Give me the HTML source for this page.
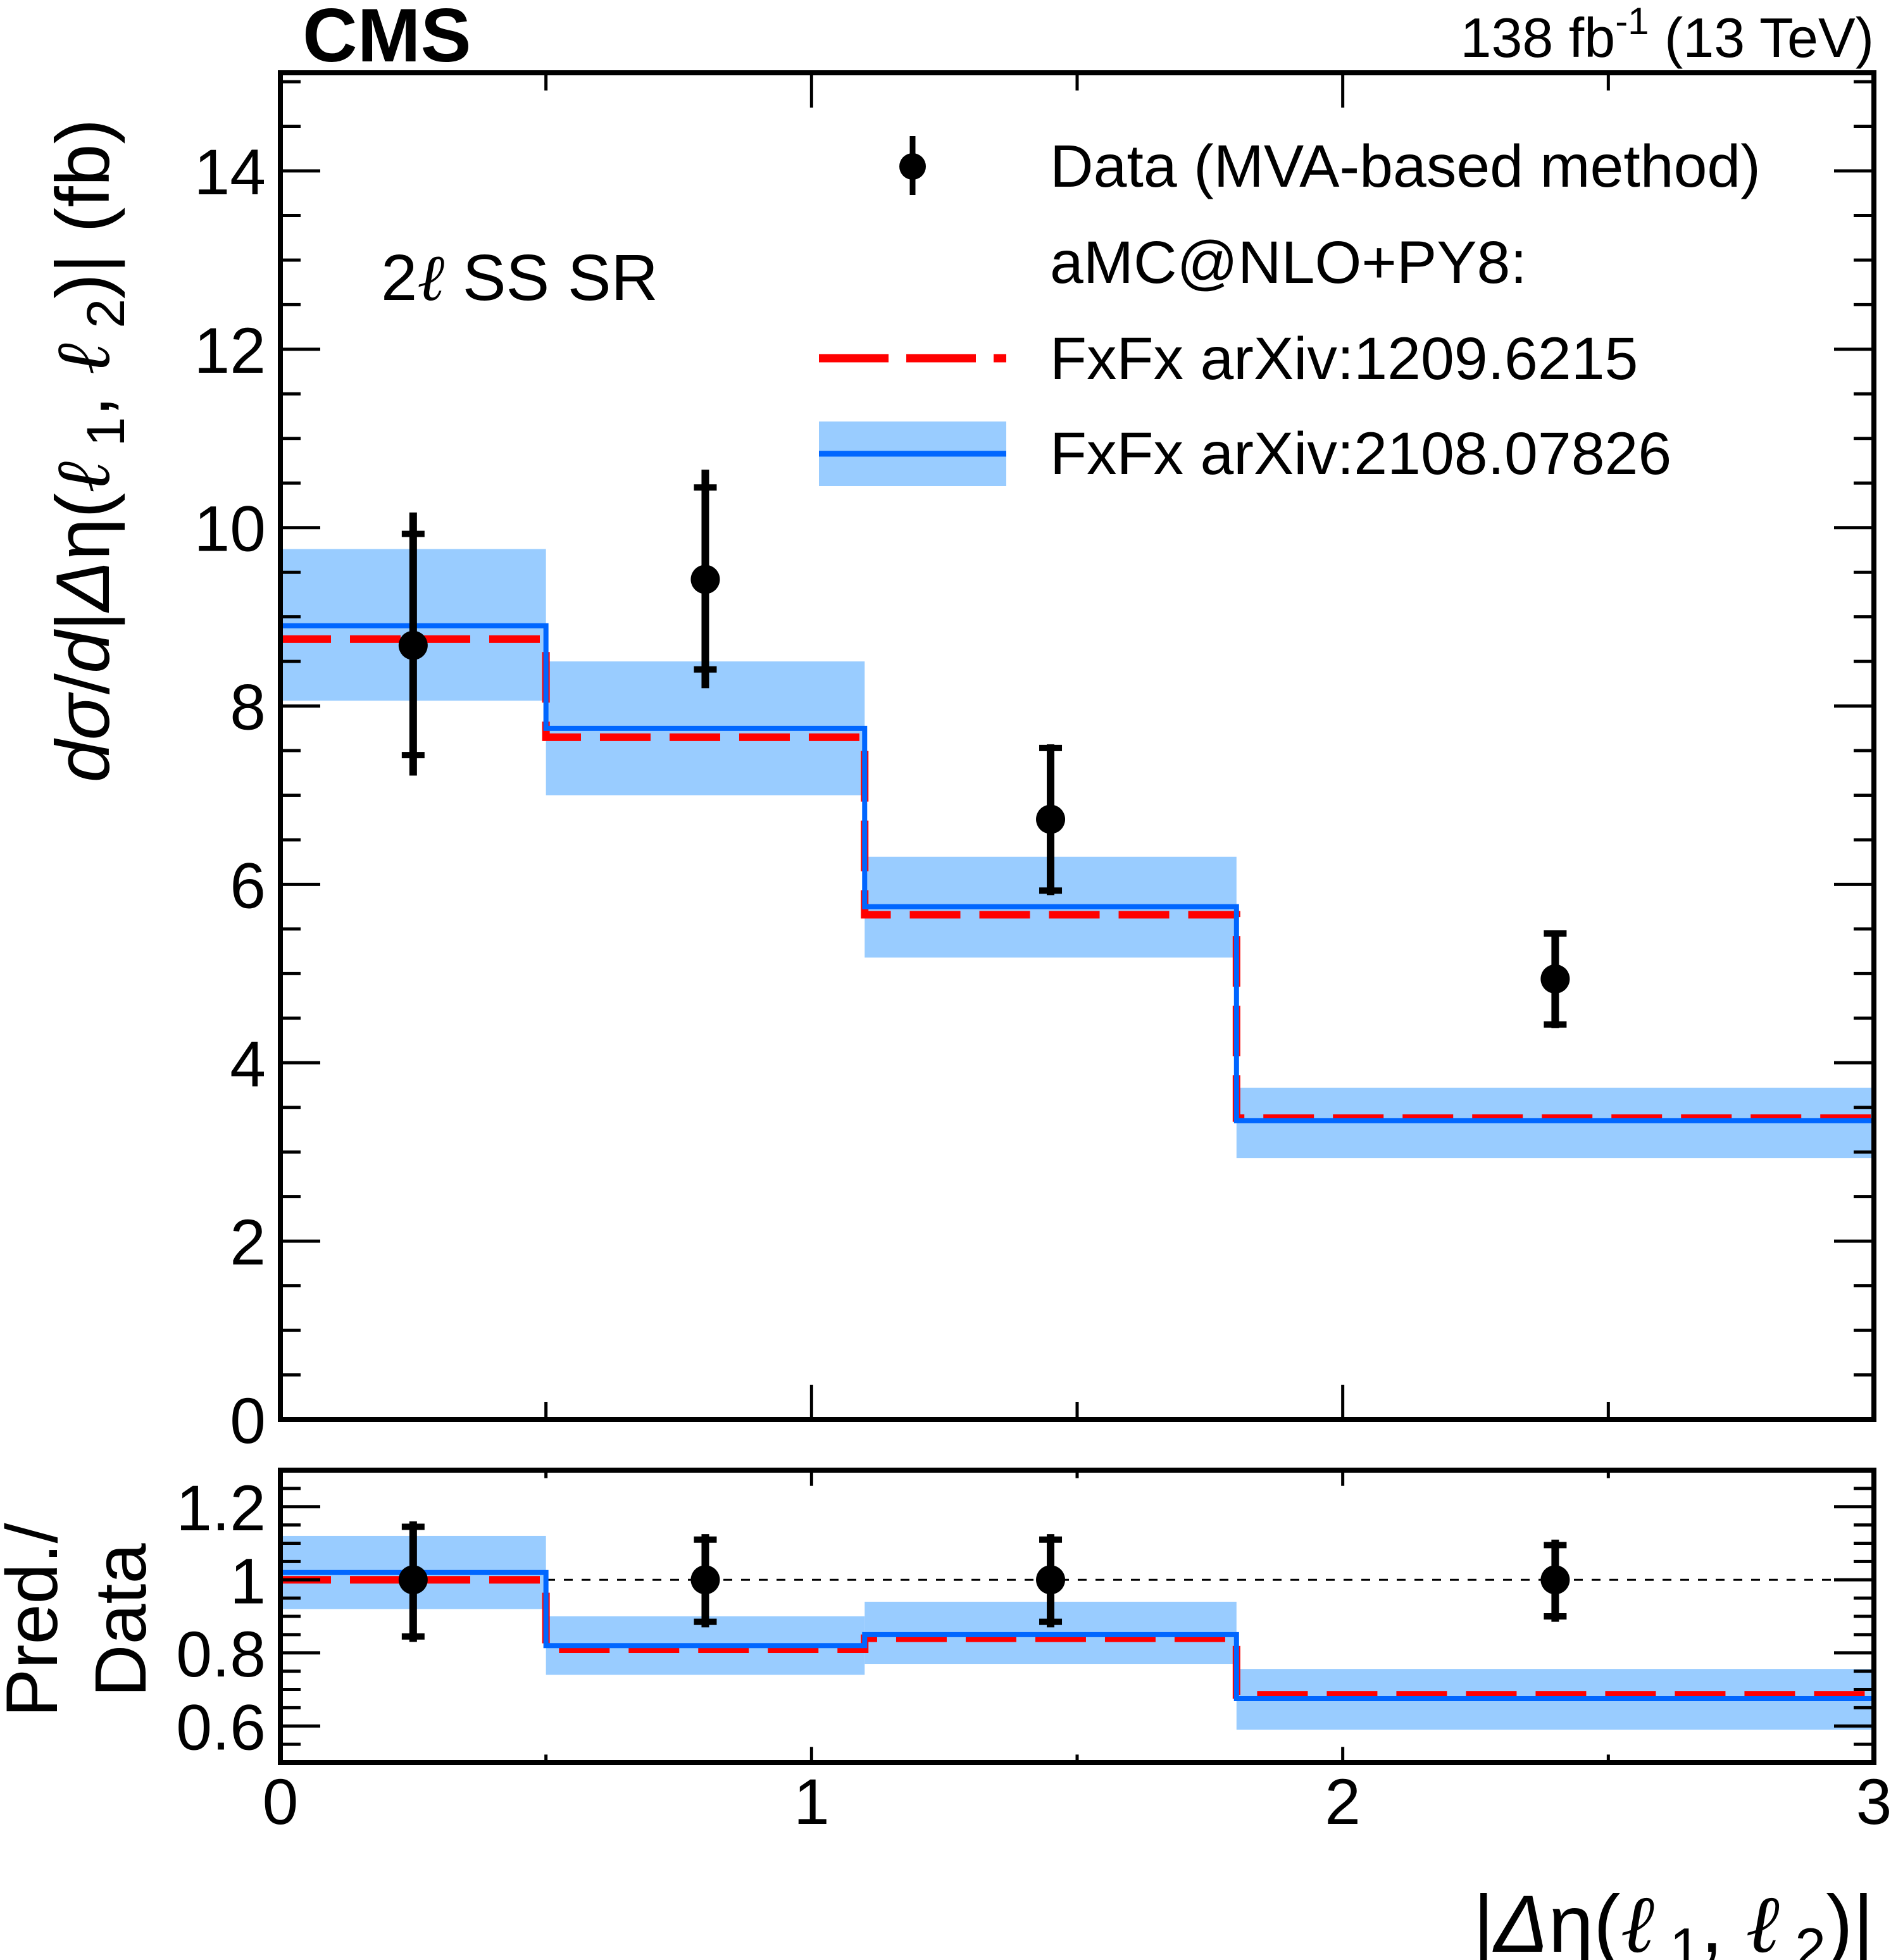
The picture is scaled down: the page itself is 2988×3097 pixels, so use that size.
<!DOCTYPE html>
<html><head><meta charset="utf-8"><style>
html,body{margin:0;padding:0;background:#fff;}
svg{display:block;font-family:"Liberation Sans",sans-serif;}
</style></head><body>
<svg id="chart" width="2988" height="3097" viewBox="0 0 2988 3097" xmlns="http://www.w3.org/2000/svg">
<text x="478" y="97" font-size="120" font-weight="bold">CMS</text>
<text x="2961" y="90" font-size="88" text-anchor="end">138 fb<tspan dy="-36" font-size="60">-1</tspan><tspan dy="36"> (13 TeV)</tspan></text>
<text x="602" y="474" font-size="103">2<tspan font-style="italic" font-family="Liberation Serif">ℓ</tspan> SS SR</text>
<text transform="translate(172,712) rotate(-90)" font-size="120" text-anchor="middle"><tspan font-style="italic">dσ</tspan>/<tspan font-style="italic">d</tspan>|<tspan font-style="italic">Δ</tspan>η(<tspan font-style="italic" font-family="Liberation Serif">ℓ</tspan><tspan font-size="84" dy="24"> 1</tspan><tspan dy="-24">, </tspan><tspan font-style="italic" font-family="Liberation Serif">ℓ</tspan><tspan font-size="84" dy="24"> 2</tspan><tspan dy="-24">)| (fb)</tspan></text>
<text transform="translate(0,2560) rotate(-90)" font-size="115" text-anchor="middle"><tspan x="0" dy="90">Pred./</tspan><tspan x="0" dy="140">Data</tspan></text>
<text x="2961" y="3084" font-size="128" text-anchor="end">|<tspan font-style="italic">Δ</tspan>η(<tspan font-style="italic" font-family="Liberation Serif">ℓ</tspan><tspan font-size="88" dy="24"> 1</tspan><tspan dy="-24">, </tspan><tspan font-style="italic" font-family="Liberation Serif">ℓ</tspan><tspan font-size="88" dy="24"> 2</tspan><tspan dy="-24">)|</tspan></text>
<g id="legend">
  <line x1="1442" y1="215" x2="1442" y2="308" stroke="#000" stroke-width="9"/>
  <circle cx="1442" cy="263" r="21" fill="#000"/>
  <text x="1659" y="295" font-size="95">Data (MVA-based method)</text>
  <text x="1659" y="447" font-size="95">aMC@NLO+PY8:</text>
  <line x1="1294" y1="566" x2="1590" y2="566" stroke="#ff0000" stroke-width="13" stroke-dasharray="110,28,110,28,30,60"/>
  <text x="1659" y="599" font-size="95">FxFx arXiv:1209.6215</text>
  <rect x="1294" y="666" width="296" height="102" fill="#99ccff"/>
  <line x1="1294" y1="717" x2="1590" y2="717" stroke="#0066ff" stroke-width="9"/>
  <text x="1659" y="749" font-size="95">FxFx arXiv:2108.07826</text>
</g>
<g id="plot"></g>
</svg>
<script>
const binEdges = [0, 0.5, 1.1, 1.8, 3];
const dataX = [0.25, 0.8, 1.45, 2.4];
const dataVal = [8.68, 9.42, 6.73, 4.94];
const dataErrHi = [10.17, 10.65, 7.57, 5.48];
const dataErrLo = [7.22, 8.2, 5.88, 4.39];
const dataCapHi = [9.93, 10.45, 7.53, 5.45];
const dataCapLo = [7.45, 8.41, 5.93, 4.43];
const blueVal = [8.9, 7.75, 5.75, 3.35];
const blueBandHi = [9.76, 8.5, 6.31, 3.72];
const blueBandLo = [8.06, 7.0, 5.18, 2.93];
const redVal = [8.75, 7.65, 5.66, 3.38];
const ratioData = [1, 1, 1, 1];
const ratioErrHi = [1.16, 1.125, 1.125, 1.11];
const ratioErrLo = [0.83, 0.87, 0.87, 0.885];
const ratioBlue = [1.02, 0.82, 0.85, 0.675];
const ratioBandHi = [1.12, 0.9, 0.94, 0.756];
const ratioBandLo = [0.92, 0.74, 0.77, 0.59];
const ratioRed = [1.0, 0.81, 0.84, 0.685];
const mainYTicks = [0, 2, 4, 6, 8, 10, 12, 14];
const ratioYTicks = [0.6, 0.8, 1, 1.2];
const ratioYTickLabels = ["0.6", "0.8", "1", "1.2"];
const xTicks = [0, 1, 2, 3];

const NS = "http://www.w3.org/2000/svg";
const L = 443, R = 2961, MT = 115, MB = 2243, RT = 2323, RB = 2785;
const X = v => L + (R - L) * v / 3;
const Ym = v => MB - (MB - MT) * v / 15.1;
const Yr = v => RB - (RB - RT) * (v - 0.5) / 0.8;
const g = document.getElementById("plot");
function el(tag, attrs, parent) {
  const e = document.createElementNS(NS, tag);
  for (const k in attrs) e.setAttribute(k, attrs[k]);
  (parent || g).appendChild(e);
  return e;
}
function stepPath(vals, Y) {
  let d = "";
  vals.forEach((v, i) => {
    d += (i === 0 ? "M" : "L") + X(binEdges[i]) + "," + Y(v) + " L" + X(binEdges[i + 1]) + "," + Y(v) + " ";
  });
  return d;
}
function panel(Y, bandHi, bandLo, blue, red, pts, hi, lo, capHi, capLo, prefix) {
  bandHi.forEach((h, i) => {
    const r = el("rect", {x: X(binEdges[i]), y: Y(h), width: X(binEdges[i + 1]) - X(binEdges[i]), height: Y(bandLo[i]) - Y(h), fill: "#99ccff"});
    
    
  });
  const rl = el("path", {d: stepPath(red, Y), fill: "none", stroke: "#ff0000", "stroke-width": 12, "stroke-dasharray": "80,30"});
  
  
  const bl = el("path", {d: stepPath(blue, Y), fill: "none", stroke: "#0066ff", "stroke-width": 8});
  
  
  pts.forEach((v, i) => {
    const cx = X(dataX[i]);
    const ln = el("line", {x1: cx, x2: cx, y1: Y(hi[i]), y2: Y(lo[i]), stroke: "#000", "stroke-width": 12});
    
    
    [capHi[i], capLo[i]].forEach(c => {
      const cp = el("line", {x1: cx - 18, x2: cx + 18, y1: Y(c), y2: Y(c), stroke: "#000", "stroke-width": 10});
      
      
    });
    const pt = el("circle", {cx: cx, cy: Y(v), r: 23, fill: "#000"});
    
    
  });
}
const ref = el("line", {x1: L, x2: R, y1: Yr(1), y2: Yr(1), stroke: "#000", "stroke-width": 3, "stroke-dasharray": "14,14"});


panel(Ym, blueBandHi, blueBandLo, blueVal, redVal, dataVal, dataErrHi, dataErrLo, dataCapHi, dataCapLo, "main");
const rCapHi = ratioErrHi.map(v => v - 0.015), rCapLo = ratioErrLo.map(v => v + 0.015);
panel(Yr, ratioBandHi, ratioBandLo, ratioBlue, ratioRed, ratioData, ratioErrHi, ratioErrLo, rCapHi, rCapLo, "ratio");

[[MT, MB, "main-frame"], [RT, RB, "ratio-frame"]].forEach(f => {
  const r = el("rect", {x: L, y: f[0], width: R - L, height: f[1] - f[0], fill: "none", stroke: "#000", "stroke-width": 8});
  
  
});
function tick(x1, y1, x2, y2, name) {
  const t = el("line", {x1: x1, y1: y1, x2: x2, y2: y2, stroke: "#000", "stroke-width": 5});
  
  
}
for (let k = 0; k <= 30; k++) {
  const v = k * 0.5; if (v > 15.1) break;
  const len = (k % 4 === 0) ? 63 : 32;
  tick(L, Ym(v), L + len, Ym(v), 'main-y-tick');
  tick(R, Ym(v), R - len, Ym(v), 'main-y-tick-right');
}
mainYTicks.forEach(v => {
  const t = el("text", {x: 420, y: Ym(v) + 37, "font-size": 102, "text-anchor": "end"});
  t.textContent = String(v);
  
  
});
for (let k = 0; k <= 16; k++) {
  const v = 0.5 + k * 0.05;
  const major = Math.abs((v * 10) % 2) < 0.01 || Math.abs((v * 10) % 2 - 2) < 0.01;
  const len = major ? 63 : 32;
  tick(L, Yr(v), L + len, Yr(v), 'ratio-y-tick');
  tick(R, Yr(v), R - len, Yr(v), 'ratio-y-tick-right');
}
ratioYTicks.forEach((v, i) => {
  const t = el("text", {x: 420, y: Yr(v) + 37, "font-size": 102, "text-anchor": "end"});
  t.textContent = ratioYTickLabels[i];
  
  
});
for (let k = 0; k <= 6; k++) {
  const v = k * 0.5;
  const len = (k % 2 === 0) ? 55 : 28;
  tick(X(v), MB, X(v), MB - len, 'main-x-tick');
  tick(X(v), MT, X(v), MT + len, 'main-x-tick-top');
  tick(X(v), RB, X(v), RB - len * 0.45, 'ratio-x-tick');
  tick(X(v), RT, X(v), RT + len * 0.45, 'ratio-x-tick-top');
}
xTicks.forEach(v => {
  const t = el("text", {x: X(v), y: 2882, "font-size": 102, "text-anchor": "middle"});
  t.textContent = String(v);
  
  
});
</script>
</body></html>
